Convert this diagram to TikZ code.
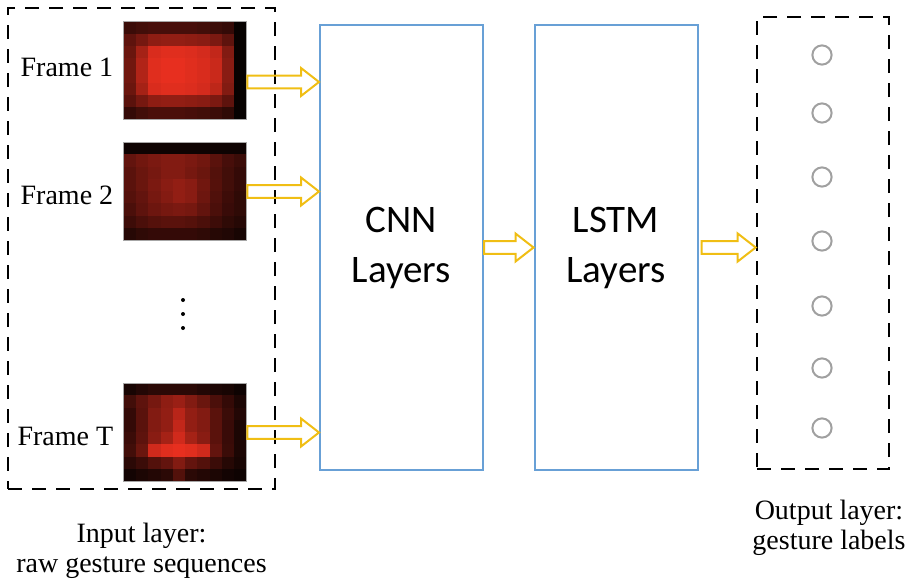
\documentclass[tikz,border=0pt]{standalone}
\usepackage{fontspec}
\setmainfont{Liberation Serif}
\newfontfamily\calibri{Carlito}
\usetikzlibrary{positioning,calc}
\definecolor{heat}{RGB}{236,48,32}
\definecolor{boxblue}{RGB}{104,160,214}
\definecolor{arrowyellow}{RGB}{240,190,20}
\definecolor{unitgray}{RGB}{160,160,160}
\tikzset{
    dashbox/.style={draw, line width=1.3pt, dash pattern=on 7pt off 5pt},
    layer/.style={draw=boxblue, line width=1pt, minimum width=81.5pt, minimum height=222.5pt,
        font=\calibri\fontsize{19.5}{25}\selectfont, align=center},
    frameimg/.style={minimum width=61.5pt, minimum height=49pt, inner sep=0},
    framelabel/.style={font=\fontsize{14}{15}\selectfont, inner sep=0},
    caption/.style={font=\fontsize{14}{15}\selectfont, align=center, inner sep=0},
    unit/.style={draw=unitgray, line width=1pt, circle, minimum size=9.6pt, inner sep=0},
    hollow/.style={draw=arrowyellow, line width=1pt, line join=miter},
}
\newcommand{\heatmap}[2]{%
    \foreach \cells [count=\rw] in {#2}
        \foreach \v [count=\cl] in \cells
            \fill[heat!\v!black] ([xshift={(\cl-1)*6.15pt}, yshift={-(\rw-1)*6.125pt}]#1)
                rectangle +(6.35pt,-6.325pt);
    \draw[gray!70, line width=0.4pt] (#1) rectangle +(61.5pt,-49pt);}
\newcommand{\hollowarrow}[2]{%
    \draw[hollow] let \p1=(#1), \p2=(#2) in
        (\x1,\y1+3.2pt) -- (\x2-9pt,\y1+3.2pt) -- (\x2-9pt,\y1+7pt) -- (\x2,\y1)
        -- (\x2-9pt,\y1-7pt) -- (\x2-9pt,\y1-3.2pt) -- (\x1,\y1-3.2pt) -- cycle;}

\begin{document}
\begin{tikzpicture}[x=0.5pt, y=-0.5pt]
    \useasboundingbox (0,0) rectangle (914,584);

    \node[frameimg] (f1) at (185.5,71) {};
    \node[frameimg] (f2) at (185.5,191.5) {};
    \node[frameimg] (fT) at (185.5,432.5) {};
    \heatmap{f1.north west}{
        {25,28,30,30,30,30,28,25,22,3},
        {40,50,60,62,62,60,58,52,40,3},
        {45,70,92,95,95,93,90,82,55,3},
        {48,75,95,98,98,95,92,85,58,3},
        {48,75,95,98,98,95,92,85,58,3},
        {45,70,92,95,95,93,90,80,55,3},
        {38,50,60,62,62,60,58,52,40,3},
        {22,28,32,32,32,30,28,25,20,3}}
    \heatmap{f2.north west}{
        {6,6,6,6,6,6,6,6,6,6},
        {42,48,52,55,55,52,48,38,30,25},
        {38,45,50,55,55,50,45,35,28,22},
        {38,45,52,58,62,58,48,36,28,22},
        {36,42,50,56,62,58,46,34,26,20},
        {32,40,46,50,52,50,42,32,24,20},
        {26,32,36,38,38,36,32,26,20,16},
        {16,20,22,22,22,22,20,16,14,10}}
    \heatmap{fT.north west}{
        {10,15,18,18,18,18,15,12,10,6},
        {28,40,50,60,65,55,45,32,22,12},
        {22,38,55,62,78,62,55,38,25,15},
        {22,38,55,62,82,62,55,38,24,12},
        {25,40,58,70,88,70,58,38,24,12},
        {28,45,88,95,98,95,88,42,25,12},
        {18,25,35,42,55,42,35,25,16,10},
        {8,12,15,18,35,18,15,12,8,6}}

    \node[framelabel, left=5pt of f1, yshift=2pt] (l1) {Frame 1};
    \node[framelabel, left=5pt of f2, yshift=-2pt] (l2) {Frame 2};
    \node[framelabel, left=5pt of fT, yshift=-2pt] (lT) {Frame T};
    \foreach \y in {300,314,328}
        \fill (183,\y) circle (1pt);

    \node[layer] (cnn) at (401.5,247.5) {CNN\\Layers};
    \node[layer] (lstm) at (616,247.5) {LSTM\\Layers};

    \node[dashbox, minimum width=133.5pt, minimum height=240.5pt] (inbox) at (141.5,248.5) {};
    \node[dashbox, minimum width=66pt, minimum height=226pt] (outbox) at (823,243) {};
    \foreach \y [count=\i] in {55,113,177,241,306,368,428}
        \node[unit] (o\i) at (822,\y) {};

    \hollowarrow{[yshift=-5.5pt]f1.east}{cnn.west}
    \hollowarrow{f2.east}{cnn.west}
    \hollowarrow{fT.east}{cnn.west}
    \hollowarrow{cnn.east}{lstm.west}
    \hollowarrow{[xshift=1.5pt]lstm.east}{outbox.west}

    \node[caption, below=16pt of inbox] (incap) {Input layer:\\raw gesture sequences};
    \node[caption, below=14.5pt of outbox, xshift=3pt] (outcap) {Output layer:\\gesture labels};
\end{tikzpicture}
\end{document}
